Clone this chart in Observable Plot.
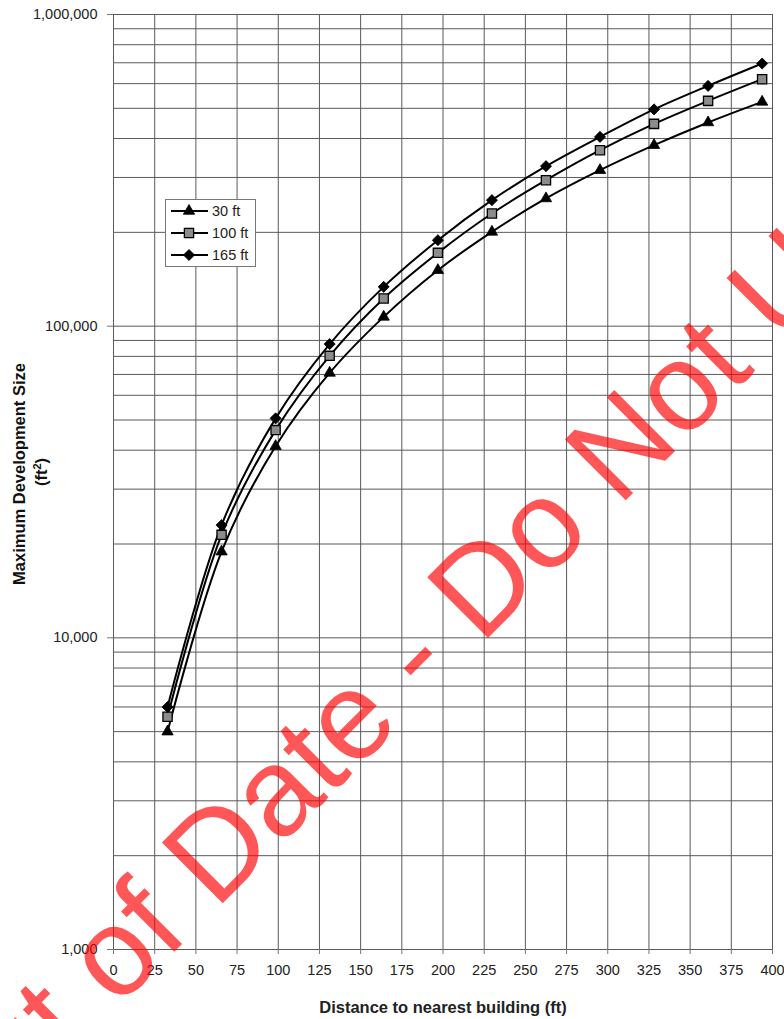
<!DOCTYPE html>
<html>
<head>
<meta charset="utf-8">
<script src="https://cdn.jsdelivr.net/npm/d3@7"></script>
<script src="https://cdn.jsdelivr.net/npm/@observablehq/plot@0.6"></script>
<style>
  html, body { margin: 0; padding: 0; background: #fff; }
  #wrap { position: relative; width: 784px; height: 1019px; overflow: hidden; font-family: "Liberation Sans", Arial, sans-serif; }
  #legend { position: absolute; left: 165px; top: 199px; width: 89px; height: 66px; border: 1px solid #777; background: #fff; }
  #overlay { position: absolute; left: 0; top: 0; pointer-events: none; }
  g[aria-label="x-axis label"] text { font-weight: bold; font-size: 16.5px; }
</style>
</head>
<body>
<div id="wrap">
  <div id="chart"></div>
  <div id="legend"></div>
  <svg id="overlay" width="784" height="1019"></svg>
</div>
<script>
// ---- data ----
const distances = [32.8, 65.6, 98.4, 131.2, 164, 196.9, 229.7, 262.5, 295.3, 328.1, 360.9, 393.7];
const size30 = [5000, 18900, 41200, 70800, 107100, 151200, 200700, 256900, 316600, 380800, 450400, 524400];
const size100 = [5580, 21400, 46400, 80300, 122700, 171900, 229900, 294000, 367000, 445700, 528300, 620100];
const size165 = [6000, 23000, 50600, 87600, 133700, 188700, 253700, 326100, 404900, 496100, 590100, 696100];
const seriesNames = ["30 ft", "100 ft", "165 ft"];
const xTicks = [0, 25, 50, 75, 100, 125, 150, 175, 200, 225, 250, 275, 300, 325, 350, 375, 400];
const yMajorTicks = [1000, 10000, 100000, 1000000];
const yGridLines = [1000, 2000, 3000, 4000, 5000, 6000, 7000, 8000, 9000,
  10000, 20000, 30000, 40000, 50000, 60000, 70000, 80000, 90000,
  100000, 200000, 300000, 400000, 500000, 600000, 700000, 800000, 900000, 1000000];
const xLabel = "Distance to nearest building (ft)";
const yLabel = "Maximum Development Size";
const watermarkText = "Out of Date - Do Not Use";

const seriesValues = [size30, size100, size165];
const symbols = ["triangle", "square", "diamond2"];
const fills = ["#000", "#8c8c8c", "#000"];
const radii = [4.2, 5.2, 5];

const rows = [];
seriesNames.forEach((name, i) => {
  distances.forEach((d, j) => rows.push({series: name, x: d, y: seriesValues[i][j]}));
});

const marks = [
  Plot.ruleY(yGridLines, {stroke: "#5a5a5a", strokeWidth: 1}),
  Plot.ruleX(xTicks, {stroke: "#5a5a5a", strokeWidth: 1}),
  Plot.axisY({ticks: yMajorTicks, tickFormat: d3.format(","), tickSize: 6, tickPadding: 10, fontSize: 14.5, stroke: "#777", fill: "#222", label: null}),
  Plot.axisX({ticks: xTicks, tickFormat: d3.format("d"), tickSize: 5, tickPadding: 10, fontSize: 14.5, stroke: "#777", fill: "#222",
    label: xLabel, labelAnchor: "center", labelArrow: "none", labelOffset: 63})
];
seriesNames.forEach((name, i) => {
  const data = rows.filter(r => r.series === name);
  marks.push(Plot.line(data, {x: "x", y: "y", stroke: "#000", strokeWidth: 2, curve: "catmull-rom"}));
});
seriesNames.forEach((name, i) => {
  const data = rows.filter(r => r.series === name);
  marks.push(Plot.dot(data, {x: "x", y: "y", symbol: () => symbols[i], r: radii[i], fill: fills[i], stroke: "#000", strokeWidth: i === 1 ? 1.3 : 0.8}));
});

const chart = Plot.plot({
  width: 784, height: 1019,
  marginLeft: 113, marginRight: 12, marginTop: 14, marginBottom: 70,
  style: {fontFamily: "'Liberation Sans', Arial, sans-serif", fontSize: "14.5px", background: "#fff", color: "#222"},
  x: {domain: [0, 400]},
  y: {type: "log", domain: [1000, 1000000]},
  symbol: {type: "identity"},
  marks
});
document.getElementById("chart").appendChild(chart);

// legend
const legend = document.getElementById("legend");
const legendRowsY = [11, 33, 55];
const NS = "http://www.w3.org/2000/svg";
const lsvg = document.createElementNS(NS, "svg");
lsvg.setAttribute("width", 89); lsvg.setAttribute("height", 66);
seriesNames.forEach((name, i) => {
  const y = legendRowsY[i];
  const ln = document.createElementNS(NS, "line");
  ln.setAttribute("x1", 5); ln.setAttribute("x2", 42); ln.setAttribute("y1", y); ln.setAttribute("y2", y);
  ln.setAttribute("stroke", "#000"); ln.setAttribute("stroke-width", 2);
  lsvg.appendChild(ln);
  const sym = {triangle: d3.symbolTriangle, square: d3.symbolSquare, diamond2: d3.symbolDiamond2}[symbols[i]];
  const p = document.createElementNS(NS, "path");
  p.setAttribute("d", d3.symbol(sym, Math.PI * radii[i] * radii[i])());
  p.setAttribute("transform", `translate(23,${y})`);
  p.setAttribute("fill", fills[i]); p.setAttribute("stroke", "#000"); p.setAttribute("stroke-width", i === 1 ? 1.3 : 0.8);
  lsvg.appendChild(p);
  const t = document.createElementNS(NS, "text");
  t.setAttribute("x", 46); t.setAttribute("y", y); t.setAttribute("dy", "0.35em");
  t.setAttribute("font-size", "14.5px"); t.setAttribute("fill", "#222");
  t.setAttribute("font-family", "'Liberation Sans', Arial, sans-serif");
  t.textContent = name;
  lsvg.appendChild(t);
});
legend.appendChild(lsvg);

// y title and watermark overlay
const ov = d3.select("#overlay");
ov.append("text")
  .attr("transform", "translate(25,474) rotate(-90)")
  .attr("text-anchor", "middle")
  .attr("font-family", "'Liberation Sans', Arial, sans-serif")
  .attr("font-weight", "bold").attr("font-size", "16.5px").attr("fill", "#111")
  .text(yLabel);
const t2 = ov.append("text")
  .attr("transform", "translate(47,472) rotate(-90)")
  .attr("text-anchor", "middle")
  .attr("font-family", "'Liberation Sans', Arial, sans-serif")
  .attr("font-weight", "bold").attr("font-size", "16.5px").attr("fill", "#111");
t2.append("tspan").text("(ft");
t2.append("tspan").attr("baseline-shift", "super").attr("font-size", "11px").text("2");
t2.append("tspan").text(")");

ov.append("text")
  .attr("transform", "translate(444,682) rotate(-45)")
  .attr("text-anchor", "middle")
  .attr("font-family", "'Liberation Sans', Arial, sans-serif")
  .attr("font-size", "125px")
  .attr("fill", "#ff0000").attr("fill-opacity", 0.66)
  .text(watermarkText);
</script>
</body>
</html>
